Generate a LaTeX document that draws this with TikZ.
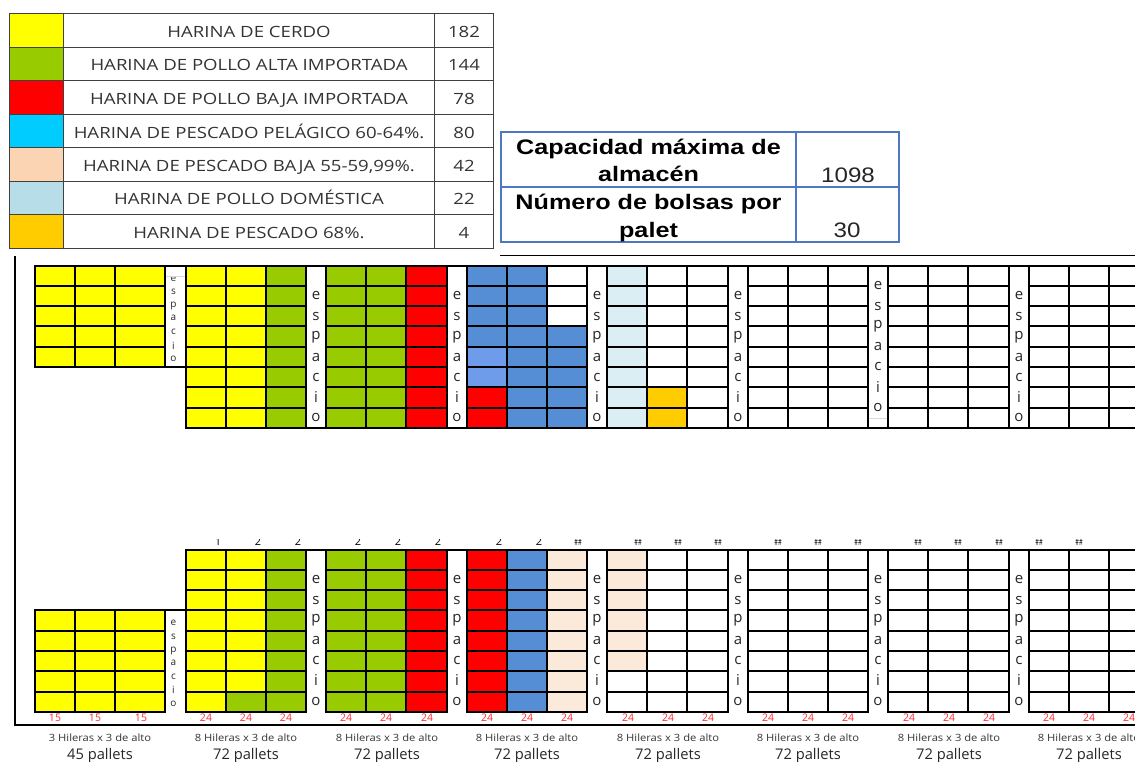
\documentclass[tikz,border=0pt]{standalone}
\usepackage{fontspec}
\setmainfont{Open Sans}
\newfontfamily\legendfont[FakeStretch=1.2]{Open Sans}
\newfontfamily\footfont[FakeStretch=1.12]{Open Sans}
\newfontfamily\boxbold[FakeStretch=1.2]{Liberation Sans Bold}
\newfontfamily\boxreg[FakeStretch=1.15]{Liberation Sans}
\definecolor{cyel}{HTML}{FFFF00}
\definecolor{cgrn}{HTML}{99CC00}
\definecolor{cred}{HTML}{FF0000}
\definecolor{ccya}{HTML}{00CCFF}
\definecolor{cpea}{HTML}{FBD4B4}
\definecolor{clbl}{HTML}{B6DDE8}
\definecolor{corg}{HTML}{FFCC00}
\definecolor{cblu}{HTML}{558ED5}
\definecolor{cbl2}{HTML}{6E9CEB}
\definecolor{cdom}{HTML}{DAEEF3}
\definecolor{cpe2}{HTML}{FBE9DA}
\definecolor{cbox}{HTML}{4F78C4}
\tikzset{
  gridline/.style={line width=1.7pt,black,line cap=rect},
  legline/.style={line width=1pt,black!75},
  legtext/.style={font=\legendfont\fontsize{15.5}{15.5}\selectfont,text=black!80,inner sep=0pt,anchor=base},
  boxline/.style={line width=1.6pt,cbox},
  boxtitle/.style={font=\boxbold\fontsize{21}{21}\selectfont,text=black,inner sep=0pt,anchor=base},
  boxval/.style={font=\boxreg\fontsize{21}{21}\selectfont,text=black!85,inner sep=0pt,anchor=base},
  bigletter/.style={font=\fontsize{15}{15}\selectfont,text=black!85,inner sep=0pt,anchor=center},
  smallletter/.style={font=\fontsize{10}{10}\selectfont,text=black!85,inner sep=0pt,anchor=center},
  redlabel/.style={font=\fontsize{10.5}{10.5}\selectfont,text={rgb,255:red,255;green,40;blue,50},inner sep=0pt,anchor=center},
  foot/.style={font=\footfont\fontsize{10}{10}\selectfont,text=black!80,inner sep=0pt,anchor=center},
  pall/.style={font=\fontsize{14.7}{14.7}\selectfont,text=black!85,inner sep=0pt,anchor=center},
  cutlabel/.style={font=\fontsize{11}{11}\selectfont,text=black,inner sep=0pt,anchor=base},
  cuthash/.style={font=\fontsize{9.5}{9.5}\selectfont,text=black,inner sep=0pt,anchor=base},
}
\newcommand\espaciocol[9]{%
  \node[bigletter] (#1e) at (#2,#3) {e};
  \node[bigletter] (#1s) at (#2,#4) {s};
  \node[bigletter] (#1p) at (#2,#5) {p};
  \node[bigletter] (#1a) at (#2,#6) {a};
  \node[bigletter] (#1c) at (#2,#7) {c};
  \node[bigletter] (#1i) at (#2,#8) {i};
  \node[bigletter] (#1o) at (#2,#9) {o};
}
\begin{document}
\begin{tikzpicture}[x=1pt,y=-1pt]
\useasboundingbox (0,0) rectangle (1135,762);
\clip (0,0) rectangle (1135,762);
% legend swatches and cells
\foreach \cc/\ya/\yb [count=\i] in {
 cyel/14/47.5, cgrn/47.5/81, cred/81/115, ccya/115/148,
 cpea/148/181.5, clbl/181.5/215, corg/215/248}{
  \fill[\cc] (9.5,\ya) rectangle (63.5,\yb);
  \draw[legline] (9.5,\ya) rectangle (63.5,\yb);
  \draw[legline] (63.5,\ya) rectangle (434,\yb);
  \draw[legline] (434,\ya) rectangle (493,\yb);
}
\node[legtext] (legname1) at (249,38) {HARINA DE CERDO};
\node[legtext] (legname2) at (249,71) {HARINA DE POLLO ALTA IMPORTADA};
\node[legtext] (legname3) at (249,104.5) {HARINA DE POLLO BAJA IMPORTADA};
\node[legtext] (legname4) at (249,138.5) {HARINA DE PESCADO PELÁGICO 60-64\%.};
\node[legtext] (legname5) at (249,172) {HARINA DE PESCADO BAJA 55-59,99\%.};
\node[legtext] (legname6) at (249,205) {HARINA DE POLLO DOMÉSTICA};
\node[legtext] (legname7) at (249,238.5) {HARINA DE PESCADO 68\%.};
\node[legtext] (legval1) at (464,38) {182};
\node[legtext] (legval2) at (464,71) {144};
\node[legtext] (legval3) at (464,104.5) {78};
\node[legtext] (legval4) at (464,138.5) {80};
\node[legtext] (legval5) at (464,172) {42};
\node[legtext] (legval6) at (464,205) {22};
\node[legtext] (legval7) at (464,238.5) {4};
% capacity box
\draw[boxline] (501,132) rectangle (899,242);
\draw[boxline] (501,187) -- (899,187);
\draw[boxline] (796,132) -- (796,242);
\node[boxtitle] (t1) at (648.5,155) {Capacidad máxima de};
\node[boxtitle] (t2) at (648.5,182) {almacén};
\node[boxtitle] (t3) at (648.5,210) {Número de bolsas por};
\node[boxtitle] (t4) at (648.5,237) {palet};
\node[boxval] (v1) at (848,183) {1098};
\node[boxval] (v2) at (847,237) {30};
% frame
\draw[line width=1.6pt] (15,256) -- (15,725) -- (1136,725);
\draw[line width=.8pt] (500,255) -- (1136,255);
% fills top
\fill[cyel] (35,266) rectangle (165,367);
\fill[cyel] (186,266) rectangle (266,428);
\fill[cgrn] (266,266) rectangle (306,428);
\fill[cgrn] (326,266) rectangle (406,428);
\fill[cred] (406,266) rectangle (447,428);
\fill[cblu] (467,266) rectangle (507,347);
\fill[cbl2] (467,347) rectangle (507,387);
\fill[cred] (467,387) rectangle (507,428);
\fill[cblu] (507,266) rectangle (547,428);
\fill[cblu] (547,326) rectangle (587,428);
\fill[cdom] (607,266) rectangle (647,428);
\fill[corg] (647,387) rectangle (687,428);
% fills bottom
\fill[cyel] (35,610) rectangle (165,712);
\fill[cyel] (186,550) rectangle (266,712);
\fill[cgrn] (226,692) rectangle (266,712);
\fill[cgrn] (266,550) rectangle (306,712);
\fill[cgrn] (326,550) rectangle (406,712);
\fill[cred] (406,550) rectangle (447,712);
\fill[cred] (467,550) rectangle (507,712);
\fill[cblu] (507,550) rectangle (547,712);
\fill[cpe2] (547,550) rectangle (587,712);
\fill[cpe2] (607,550) rectangle (647,671);
% grid blocks
\foreach \l/\p/\q/\r in {186/226/266/306,326/366/406/447,467/507/547/587,607/647/687/728,748/788/828/868,888/928/968/1009,1029/1069/1109/1149}{
  \foreach \y in {266,286,306,326,347,367,387,408,428}{\draw[gridline] (\l,\y) -- (\r,\y);}
  \foreach \y in {550,570,590,610,631,651,671,692,712}{\draw[gridline] (\l,\y) -- (\r,\y);}
  \foreach \x in {\l,\p,\q,\r}{
    \draw[gridline] (\x,266) -- (\x,428);
    \draw[gridline] (\x,550) -- (\x,712);
  }
}
% short blocks
\foreach \y in {266,286,306,326,347,367}{\draw[gridline] (35,\y) -- (165,\y);}
\foreach \y in {610,631,651,671,692,712}{\draw[gridline] (35,\y) -- (165,\y);}
\foreach \x in {35,75,115,165}{
  \draw[gridline] (\x,266) -- (\x,367);
  \draw[gridline] (\x,610) -- (\x,712);
}
% lines across the aisles
\draw[gridline] (165,266) -- (186,266);
\foreach \xa/\xb in {306/326,447/467,587/607,728/748,868/888,1009/1029}{
  \draw[gridline] (\xa,266) -- (\xb,266);
  \draw[gridline] (\xa,428) -- (\xb,428);
  \draw[gridline] (\xa,550) -- (\xb,550);
}
\draw[gridline] (165,367) -- (186,367);
\draw[gridline] (165,610) -- (186,610);
% aisle letters
\espaciocol{ta}{316}{295}{316}{337}{357}{377}{397}{417}
\espaciocol{tb}{457}{295}{316}{337}{357}{377}{397}{417}
\espaciocol{tc}{597}{295}{316}{337}{357}{377}{397}{417}
\espaciocol{td}{738}{295}{316}{337}{357}{377}{397}{417}
\espaciocol{te}{878}{285}{306}{326}{346}{366}{387}{407}
\espaciocol{tf}{1019}{295}{316}{337}{357}{377}{397}{417}
\espaciocol{ba}{316}{579}{600}{620}{640}{660}{680}{701}
\espaciocol{bb}{457}{579}{600}{620}{640}{660}{680}{701}
\espaciocol{bc}{597}{579}{600}{620}{640}{660}{680}{701}
\espaciocol{bd}{738}{579}{600}{620}{640}{660}{680}{701}
\espaciocol{be}{878}{579}{600}{620}{640}{660}{680}{701}
\espaciocol{bf}{1019}{579}{600}{620}{640}{660}{680}{701}
\foreach \yy/\ch [count=\j] in {279/e,292/s,306/p,318/a,332/c,346/i,359/o}{\node[smallletter] (stop\j) at (173.5,\yy) {\ch};}
\fill[white] (166.2,267) rectangle (185,276);
\draw[black!15,line width=.5pt] (166.2,276) -- (185,276);
\draw[black!15,line width=.5pt] (869,418) -- (887,418);
\foreach \yy/\ch [count=\j] in {623/e,637/s,651/p,663/a,677/c,690/i,704/o}{\node[smallletter] (sbot\j) at (173.5,\yy) {\ch};}
% clipped labels
\begin{scope}
\clip (180,539) rectangle (1135,549);
\foreach \x/\t [count=\k] in {218/1,258/2,298/2,358/2,398/2,438/2,499/2,539/2}{
  \node[cutlabel] (cut\k) at (\x,545) {\t};
}
\foreach \x [count=\k] in {578,638,678,718,778,818,858,918,958,999,1039,1079}{
  \node[cuthash] (hash\k) at (\x,545) {\scalebox{0.6}[1]{\#\#}};
}
\end{scope}
% red labels
\foreach \x/\t [count=\k] in {55/15,95/15,141/15,206/24,246/24,286/24,346/24,386/24,427/24,487/24,527/24,567/24,628/24,668/24,708/24,768/24,808/24,848/24,909/24,949/24,989/24,1049/24,1089/24,1129/24}{
  \node[redlabel] (red\k) at (\x,718) {\t};
}
% footers
\foreach \x/\na/\nb [count=\k] in {100/3/45,246/8/72,387/8/72,527/8/72,668/8/72,808/8/72,949/8/72,1089/8/72}{
  \node[foot] (foot\k) at (\x,738) {\na{} Hileras x 3 de alto};
  \node[pall] (pal\k) at (\x,755.5) {\nb{} pallets};
}
\end{tikzpicture}
\end{document}
